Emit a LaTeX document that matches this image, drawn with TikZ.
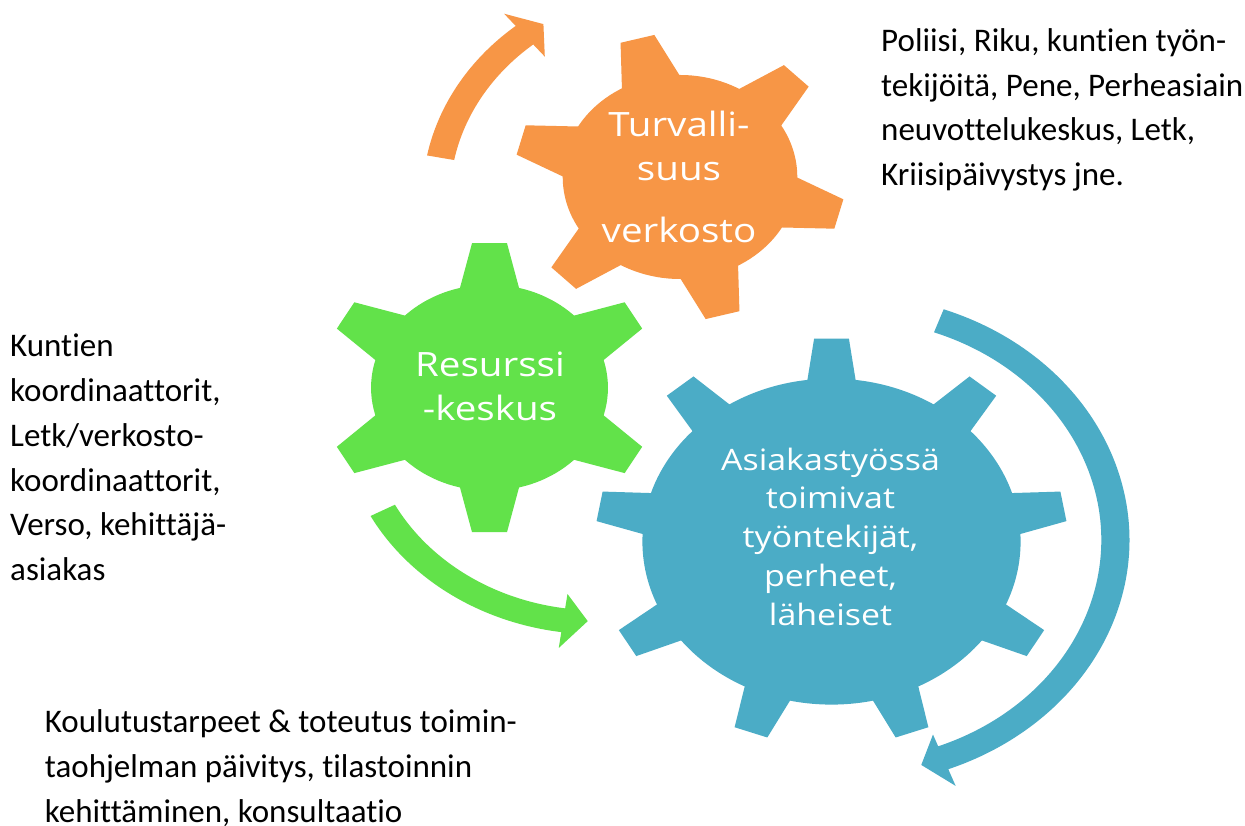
\documentclass[tikz,border=0pt]{standalone}
\usepackage{fontspec}
\usepackage{graphicx}
\setmainfont{Carlito}[Ligatures=NoCommon]
\newfontfamily\gearfont{Open Sans}[Ligatures=NoCommon]
\definecolor{gorange}{RGB}{247,150,70}
\definecolor{ggreen}{RGB}{98,226,74}
\definecolor{gblue}{RGB}{75,172,198}
\tikzset{
  sidetxt/.style={anchor=north west, inner sep=0pt, text=black},
  geartxt/.style={anchor=north, inner sep=0pt, text=white},
}
\begin{document}
\begin{tikzpicture}[x=1pt,y=1pt]
\useasboundingbox (0,0) rectangle (1245,825);
\fill[white] (0,0) rectangle (1245,825);

% ---------- circular arrows ----------
\begin{scope}[shift={(678.8,627)}, xscale=1.15]
  \fill[gorange] (169:223) arc[start angle=169, end angle=129.5, radius=223]
    -- (129.5:238.8) -- (124.1:210) -- (129.5:183.2) -- (129.5:199)
    arc[start angle=129.5, end angle=169, radius=199] -- cycle;
\end{scope}
\begin{scope}[shift={(597,413.7)}, xscale=1.15]
  \fill[ggreen] (208:223) arc[start angle=208, end angle=262, radius=223]
    -- (262:239) -- (267.8:210) -- (262:184.5) -- (262:199)
    arc[start angle=262, end angle=208, radius=199] -- cycle;
\end{scope}
\begin{scope}[shift={(847.1,285)}, xscale=1.15]
  \fill[gblue] (70:245.5) arc[start angle=70, end angle=-69, radius=245.5]
    -- (-69:263.4) -- (-74:234) -- (-69:208.4) -- (-69:221)
    arc[start angle=-69, end angle=70, radius=221] -- cycle;
\end{scope}

% ---------- gears ----------
\begin{scope}[shift={(680,648)}, xscale=1.15]
  \fill[gorange] (0,0) circle[radius=102];
  \foreach \a in {105,165,225,285,345,45}
    \fill[gorange, rotate=\a] (83,-29.6) -- (143,-15.2) -- (143,15.2) -- (83,29.6) -- cycle;
\end{scope}
\begin{scope}[shift={(489.5,437.3)}, xscale=1.15]
  \fill[ggreen] (0,0) circle[radius=103];
  \foreach \a in {90,150,210,270,330,30}
    \fill[ggreen, rotate=\a] (83,-29.6) -- (144.5,-15.2) -- (144.5,15.2) -- (83,29.6) -- cycle;
\end{scope}
\begin{scope}[shift={(831.5,283.4)}, xscale=1.16]
  \fill[gblue] (0,0) circle[radius=163];
  \foreach \a in {90,130,170,210,250,290,330,10,50}
    \fill[gblue, rotate=\a] (140,-23.8) -- (203,-15) -- (203,15) -- (140,23.8) -- cycle;
\end{scope}

% ---------- gear labels ----------
\node[geartxt] (turva) at (679,719.8)
  {\scalebox{1.15}[1]{\gearfont\fontsize{33.5}{44}\selectfont
   \begin{tabular}{@{}c@{}}Turvalli-\\suus\\[18pt]verkosto\end{tabular}}};
\node[geartxt] (resurssi) at (490,479.1)
  {\scalebox{1.15}[1]{\gearfont\fontsize{33.5}{44}\selectfont
   \begin{tabular}{@{}c@{}}Resurssi\\-keskus\end{tabular}}};
\node[geartxt] (asiakas) at (830.5,382.1)
  {\scalebox{1.15}[1]{\gearfont\fontsize{29.5}{38.75}\selectfont
   \begin{tabular}{@{}c@{}}Asiakastyössä\\toimivat\\työntekijät,\\perheet,\\läheiset\end{tabular}}};

% ---------- side texts ----------
\node[sidetxt] (oikea) at (881,804.45)
  {\fontsize{33}{44.5}\selectfont
   \begin{tabular}{@{}l@{}}Poliisi, Riku, kuntien työn-\\tekijöitä, Pene, Perheasiain\\neuvottelukeskus, Letk,\\Kriisipäivystys jne.\end{tabular}};
\node[sidetxt] (vasen) at (10,499.5)
  {\fontsize{33}{44.7}\selectfont
   \begin{tabular}{@{}l@{}}Kuntien\\koordinaattorit,\\Letk/verkosto-\\koordinaattorit,\\Verso, kehittäjä-\\asiakas\end{tabular}};
\node[sidetxt] (ala) at (44.7,124.5)
  {\fontsize{33}{45}\selectfont
   \begin{tabular}{@{}l@{}}Koulutustarpeet \& toteutus toimin-\\taohjelman päivitys, tilastoinnin\\kehittäminen, konsultaatio\end{tabular}};
\end{tikzpicture}
\end{document}
